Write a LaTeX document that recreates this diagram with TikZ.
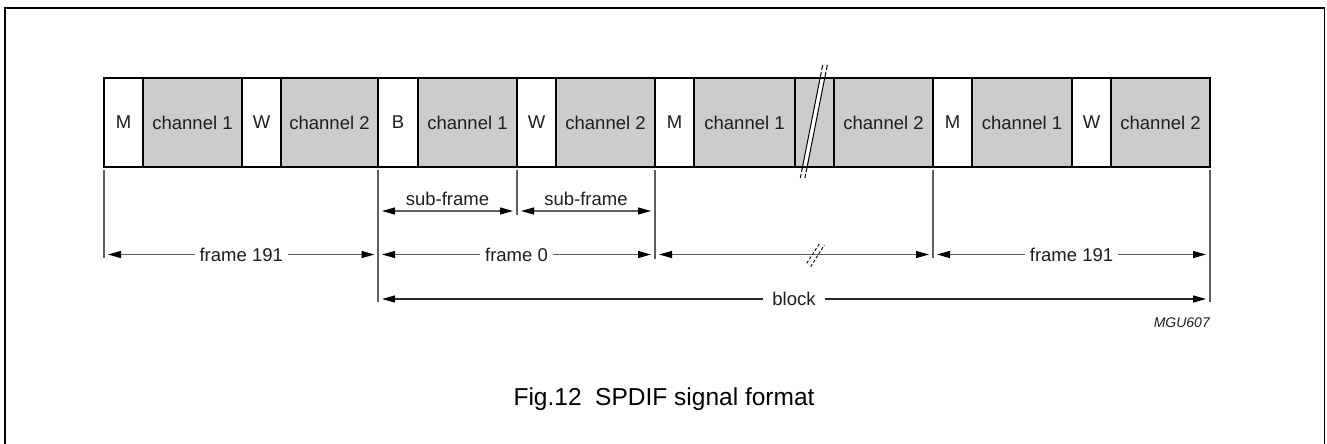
\documentclass[tikz,border=0pt]{standalone}
\usepackage{fontspec}
\setmainfont{Liberation Sans}
\usetikzlibrary{arrows.meta}
\definecolor{cellgray}{RGB}{204,204,204}
\definecolor{dimgray}{RGB}{95,95,95}
\definecolor{txt}{RGB}{30,30,30}
\begin{document}
\begin{tikzpicture}[x=1pt,y=-1pt,
  cell/.style={draw=black, line width=1.4pt, minimum height=89pt, inner sep=0pt, outer sep=0pt,
    text=txt, font=\fontsize{18.5}{20}\selectfont},
  wcell/.style={cell, fill=white},
  gcell/.style={cell, fill=cellgray},
  tickline/.style={draw=dimgray, line width=1.2pt},
  tip/.tip={Triangle[length=13pt,width=7pt,color=black]},
  dimline/.style={draw=dimgray, line width=1.2pt, tip-tip},
  blockline/.style={draw=black!85, line width=1.2pt, tip-tip},
  lbl/.style={fill=white, text=txt, inner xsep=5pt, inner ysep=1pt, font=\fontsize{18.5}{20}\selectfont},
  toplbl/.style={text=txt, inner sep=1pt, font=\fontsize{18.5}{20}\selectfont},
  breakline/.style={draw=black, line width=1pt}
]
\useasboundingbox (0,0) rectangle (1327,444);
% outer frame
\draw[line width=1.8pt] (5,446) -- (5,8) -- (1324.5,8) -- (1324.5,446);

% cells
\node[wcell, minimum width=39pt] (c1) at (123.5,122.5) {M};
\node[gcell, minimum width=99pt] (c2) at (192.5,122.5) {channel 1};
\node[wcell, minimum width=39pt] (c3) at (261.5,122.5) {W};
\node[gcell, minimum width=97pt] (c4) at (329.5,122.5) {channel 2};
\node[wcell, minimum width=40pt] (c5) at (398,122.5) {B};
\node[gcell, minimum width=99pt] (c6) at (467.5,122.5) {channel 1};
\node[wcell, minimum width=39pt] (c7) at (536.5,122.5) {W};
\node[gcell, minimum width=99pt] (c8) at (605.5,122.5) {channel 2};
\node[wcell, minimum width=39pt] (c9) at (674.5,122.5) {M};
\node[gcell, minimum width=101pt] (c10) at (744.5,122.5) {channel 1};
\node[gcell, minimum width=39pt] (c11) at (814.5,122.5) {};
\node[gcell, minimum width=99pt] (c12) at (883.5,122.5) {channel 2};
\node[wcell, minimum width=39pt] (c13) at (952.5,122.5) {M};
\node[gcell, minimum width=100pt] (c14) at (1022,122.5) {channel 1};
\node[wcell, minimum width=39pt] (c15) at (1091.5,122.5) {W};
\node[gcell, minimum width=99pt] (c16) at (1160.5,122.5) {channel 2};

% break in the cell row
\fill[white] (820.1,79) -- (824.7,79) -- (807.1,166) -- (802.5,166) -- cycle;
\draw[breakline] (820.1,78) -- (802.5,167);
\draw[breakline] (824.7,78) -- (807.1,167);
\draw[breakline, dash pattern=on 5pt off 2pt] (822.7,65) -- (820.1,78);
\draw[breakline, dash pattern=on 5pt off 2pt] (827.3,65) -- (824.7,78);
\draw[breakline, dash pattern=on 5pt off 2pt] (802.5,167) -- (800.3,178);
\draw[breakline, dash pattern=on 5pt off 2pt] (807.1,167) -- (804.9,178);

% ticks
\coordinate (k0a) at (104,170);  \coordinate (k0b) at (104,258);
\coordinate (k1a) at (378,170);  \coordinate (k1b) at (378,302);
\coordinate (k2a) at (517,170);  \coordinate (k2b) at (517,215);
\coordinate (k3a) at (655,170);  \coordinate (k3b) at (655,259);
\coordinate (k4a) at (933,170);  \coordinate (k4b) at (933,258);
\coordinate (k5a) at (1210,170); \coordinate (k5b) at (1210,302);
\draw[tickline] (k0a) -- (k0b);
\draw[tickline] (k1a) -- (k1b);
\draw[tickline] (k2a) -- (k2b);
\draw[tickline] (k3a) -- (k3b);
\draw[tickline] (k4a) -- (k4b);
\draw[tickline] (k5a) -- (k5b);

% sub-frame arrows
\coordinate (s1a) at (382,211); \coordinate (s1b) at (513,211);
\coordinate (s2a) at (521,211); \coordinate (s2b) at (651,211);
\draw[dimline] (s1a) -- node[toplbl, above=4pt] (ls1) {sub-frame} (s1b);
\draw[dimline] (s2a) -- node[toplbl, above=4pt] (ls2) {sub-frame} (s2b);

% frame arrows
\coordinate (f1a) at (108,254.5);  \coordinate (f1b) at (374.5,254.5);
\coordinate (f2a) at (382,254.5);  \coordinate (f2b) at (651,254.5);
\coordinate (f3a) at (659,254.5);  \coordinate (f3b) at (929,254.5);
\coordinate (f4a) at (937,254.5);  \coordinate (f4b) at (1206,254.5);
\draw[dimline] (f1a) -- node[lbl] (lf1) {frame 191} (f1b);
\draw[dimline] (f2a) -- node[lbl] (lf2) {frame 0} (f2b);
\draw[dimline] (f3a) -- (f3b);
\draw[dimline] (f4a) -- node[lbl] (lf4) {frame 191} (f4b);
% break mark on frame line
\draw[breakline, line width=0.9pt, dash pattern=on 3pt off 2pt] (806.7,263.3) -- (820,242.7);
\draw[breakline, line width=0.9pt, dash pattern=on 3pt off 2pt] (810.7,266.7) -- (824.3,245);

% block arrow
\coordinate (b1a) at (382,299); \coordinate (b1b) at (1206,299);
\draw[blockline] (b1a) -- node[lbl, inner xsep=9pt] (lb) {block} (b1b);

% reference code
\node[anchor=east, text=txt, inner sep=0pt, font=\fontsize{14}{16}\selectfont\itshape] (code) at (1210,323) {MGU607};

% caption
\node[text=black, inner sep=0pt, font=\fontsize{24.5}{27}\selectfont] (cap) at (664,399) {Fig.12\ \ SPDIF signal format};
\end{tikzpicture}
\end{document}
